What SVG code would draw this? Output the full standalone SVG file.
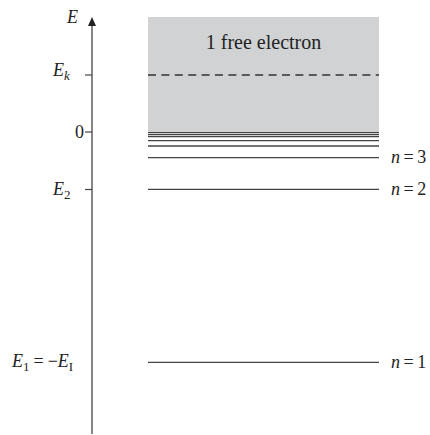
<svg xmlns="http://www.w3.org/2000/svg" width="430" height="435" viewBox="0 0 430 435">
<style>
.t{fill:#222}
.i{font-style:italic}
.lvl{stroke:#444;stroke-width:1.3;fill:none}
.tick{stroke:#444;stroke-width:1.2}
</style>
<g font-family="'Liberation Serif', 'DejaVu Serif', 'Times New Roman', serif">
<g id="continuum">
<rect x="148" y="17" width="231" height="115" fill="#d1d2d4"/>
<text class="t" x="263.5" y="49" text-anchor="middle" font-size="20">1 free electron</text>
<line x1="148" y1="75" x2="379" y2="75" stroke="#333" stroke-width="1.3" stroke-dasharray="8,5.4"/>
</g>
<g id="axis">
<line x1="92" y1="434" x2="92" y2="26" stroke="#444" stroke-width="1.3"/>
<path d="M88,26 L92,17 L96,26 Z" fill="#222"/>
<line class="tick" x1="85" y1="75" x2="92" y2="75"/>
<line class="tick" x1="85" y1="132" x2="92" y2="132"/>
<line class="tick" x1="85" y1="189.5" x2="92" y2="189.5"/>
<text class="t i" x="67" y="23" font-size="18">E</text>
<text class="t" x="53" y="76" font-size="18"><tspan class="i">E</tspan><tspan class="i" font-size="13" dy="4">k</tspan></text>
<text class="t" x="75" y="138" font-size="18">0</text>
<text class="t" x="53" y="195" font-size="18"><tspan class="i">E</tspan><tspan font-size="13" dy="4">2</tspan></text>
<text class="t" x="12" y="367" font-size="18"><tspan class="i">E</tspan><tspan font-size="13" dy="4">1</tspan><tspan dy="-4" dx="4">=</tspan><tspan dx="4">−</tspan><tspan class="i">E</tspan><tspan font-size="13" dy="4">I</tspan></text>
</g>
<g id="levels">
<line class="lvl" x1="148" y1="132.6" x2="379" y2="132.6"/>
<line class="lvl" x1="148" y1="134.7" x2="379" y2="134.7"/>
<line class="lvl" x1="148" y1="136.7" x2="379" y2="136.7"/>
<line class="lvl" x1="148" y1="140.6" x2="379" y2="140.6"/>
<line class="lvl" x1="148" y1="146" x2="379" y2="146"/>
</g>
<g id="n3"><line class="lvl" x1="148" y1="157.6" x2="379" y2="157.6"/><text class="t" x="391" y="163" font-size="18"><tspan class="i">n</tspan><tspan dx="3.5">=</tspan><tspan dx="3.5">3</tspan></text></g>
<g id="n2"><line class="lvl" x1="148" y1="189.4" x2="379" y2="189.4"/><text class="t" x="391" y="195" font-size="18"><tspan class="i">n</tspan><tspan dx="3.5">=</tspan><tspan dx="3.5">2</tspan></text></g>
<g id="n1"><line class="lvl" x1="148" y1="362.3" x2="379" y2="362.3"/><text class="t" x="391" y="368" font-size="18"><tspan class="i">n</tspan><tspan dx="3.5">=</tspan><tspan dx="3.5">1</tspan></text></g>
</g>
</svg>
